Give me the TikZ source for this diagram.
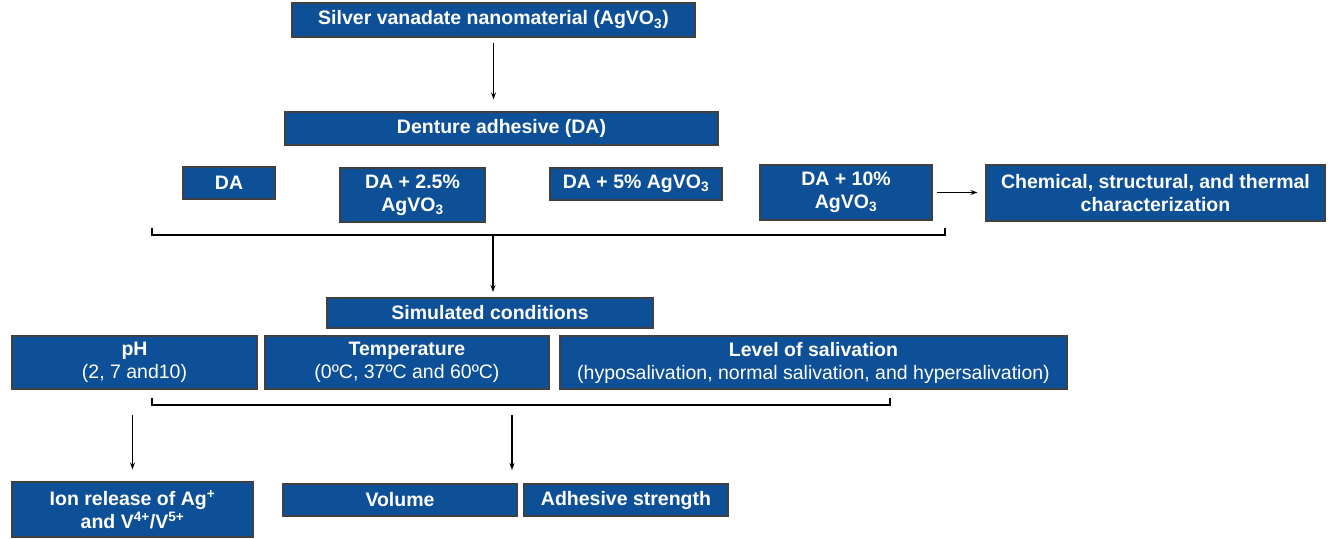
\documentclass[tikz,border=0pt]{standalone}
\usepackage{fontspec}
\setmainfont{Liberation Sans}
\usetikzlibrary{positioning, arrows.meta, calc}
\definecolor{dablue}{RGB}{14,80,152}

\begin{document}
\begin{tikzpicture}[x=1pt, y=-1pt, >={Stealth[length=7pt,width=5pt]}, line width=1.1pt,
    box/.style={draw=black!75, fill=dablue, text=white, align=center, inner sep=0pt,
      font=\fontsize{19.5}{23}\selectfont\bfseries}]
  \useasboundingbox (0,0) rectangle (1338,538);

  % material and groups
  \node[box, minimum width=403pt, minimum height=34pt] (avo) at (493.5,20) {Silver vanadate nanomaterial (AgVO\textsubscript{3})};
  \node[box, minimum width=433pt, minimum height=33pt] (da) at (501.5,128.5) {Denture adhesive (DA)};
  \node[box, minimum width=92pt, minimum height=32pt] (g0) at (229,183) {DA};
  \node[box, minimum width=145pt, minimum height=54pt] (g25) at (412.5,195) {DA + 2.5\%\\AgVO\textsubscript{3}};
  \node[box, minimum width=172pt, minimum height=32pt] (g5) at (636,184) {DA + 5\% AgVO\textsubscript{3}};
  \node[box, minimum width=172pt, minimum height=55pt] (g10) at (846,192.5) {DA + 10\%\\AgVO\textsubscript{3}};
  \node[box, minimum width=339pt, minimum height=56pt] (chem) at (1155.5,193) {Chemical, structural, and thermal\\characterization};

  % conditions
  \node[box, minimum width=326pt, minimum height=30pt] (sim) at (490,313) {Simulated conditions};
  \node[box, minimum width=245pt, minimum height=53pt] (ph) at (134.5,362.5) {pH\\{\mdseries (2, 7 and10)}};
  \node[box, minimum width=284pt, minimum height=53pt] (temp) at (407,362.5) {Temperature\\{\mdseries (0ºC, 37ºC and 60ºC)}};
  \node[box, minimum width=507pt, minimum height=53pt] (saliv) at (813.5,362.5) {Level of salivation\\{\mdseries (hyposalivation, normal salivation, and hypersalivation)}};

  % outcomes
  \node[box, minimum width=241pt, minimum height=55pt] (ion) at (132.5,509.5) {Ion release of Ag\textsuperscript{+}\\and V\textsuperscript{4+}/V\textsuperscript{5+}};
  \node[box, minimum width=234pt, minimum height=32pt] (vol) at (400,500) {Volume};
  \node[box, minimum width=204pt, minimum height=32pt] (adh) at (626,500) {Adhesive strength};

  % brackets
  \coordinate (bra1) at (152,235);
  \coordinate (bra1r) at (945,235);
  \coordinate (bra2) at (152,405);
  \coordinate (bra2r) at (890,405);
  \coordinate (outv) at (512,415);

  \draw[->, shorten <=5pt, shorten >=12pt] (avo.south) -- (avo.south |- da.north);
  \draw[->, shorten <=4pt, shorten >=8pt] (g10.east) -- (chem.west |- g10.east);
  \draw (bra1) ++(0,-7) -- (bra1) -- (bra1r) -- ++(0,-7);
  \draw[->, shorten >=6pt] (sim.north |- bra1) ++(3,0) -- ++(0,63);
  \draw (bra2) ++(0,-7) -- (bra2) -- (bra2r) -- ++(0,-7);
  \draw[->, shorten >=12pt] (ion.north |- outv) -- (ion.north);
  \draw[->] (outv) -- ++(0,55);
\end{tikzpicture}
\end{document}
